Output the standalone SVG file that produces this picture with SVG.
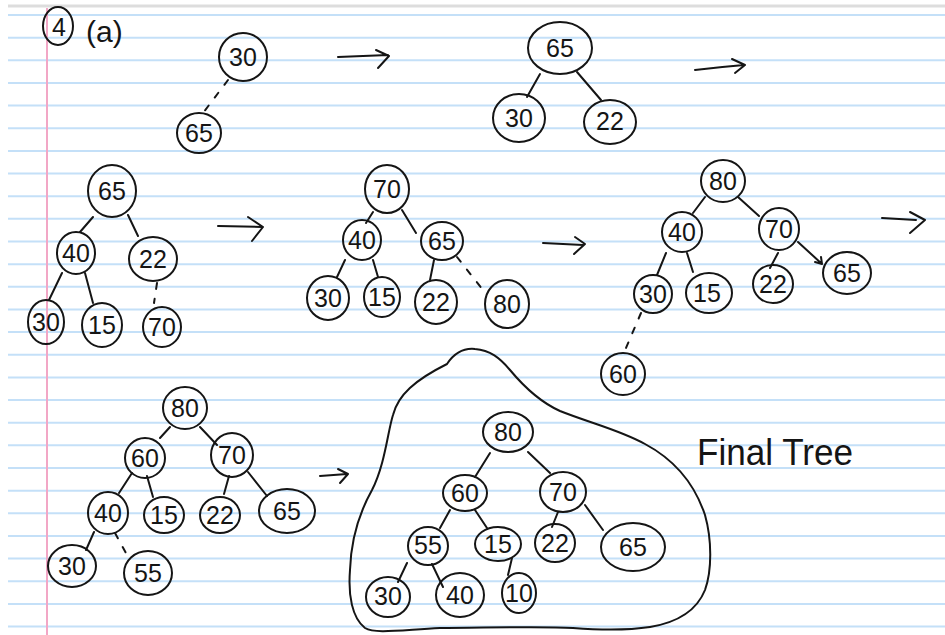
<svg xmlns="http://www.w3.org/2000/svg" width="945" height="635" viewBox="0 0 945 635">
<defs>
<style>
.bg{fill:#ffffff}
.rule{stroke:#c4e0f8;stroke-width:2}
.margin{stroke:#f2a7c6;stroke-width:2}
.top{stroke:#dddddd;stroke-width:3}
.n ellipse{fill:none;stroke:#151515;stroke-width:2}
.n text{font-family:"Liberation Sans",Arial,sans-serif;font-size:25px;fill:#151515;text-anchor:middle;dominant-baseline:central}
.e{fill:none;stroke:#151515;stroke-width:2;stroke-linecap:round;stroke-linejoin:round}
.d{stroke-dasharray:6 10}
.lbl{font-family:"Liberation Sans",Arial,sans-serif;fill:#151515}
</style>
</defs>
<rect class="bg" x="0" y="0" width="945" height="635"/>
<g id="paper">
<line class="top" x1="8" y1="6" x2="945" y2="6"/>
<line class="rule" x1="8" y1="15" x2="945" y2="15"/>
<line class="rule" x1="8" y1="37.65" x2="945" y2="37.65"/>
<line class="rule" x1="8" y1="60.3" x2="945" y2="60.3"/>
<line class="rule" x1="8" y1="82.95" x2="945" y2="82.95"/>
<line class="rule" x1="8" y1="105.6" x2="945" y2="105.6"/>
<line class="rule" x1="8" y1="128.25" x2="945" y2="128.25"/>
<line class="rule" x1="8" y1="150.9" x2="945" y2="150.9"/>
<line class="rule" x1="8" y1="173.55" x2="945" y2="173.55"/>
<line class="rule" x1="8" y1="196.2" x2="945" y2="196.2"/>
<line class="rule" x1="8" y1="218.85" x2="945" y2="218.85"/>
<line class="rule" x1="8" y1="241.5" x2="945" y2="241.5"/>
<line class="rule" x1="8" y1="264.15" x2="945" y2="264.15"/>
<line class="rule" x1="8" y1="286.8" x2="945" y2="286.8"/>
<line class="rule" x1="8" y1="309.45" x2="945" y2="309.45"/>
<line class="rule" x1="8" y1="332.1" x2="945" y2="332.1"/>
<line class="rule" x1="8" y1="354.75" x2="945" y2="354.75"/>
<line class="rule" x1="8" y1="377.4" x2="945" y2="377.4"/>
<line class="rule" x1="8" y1="400.05" x2="945" y2="400.05"/>
<line class="rule" x1="8" y1="422.7" x2="945" y2="422.7"/>
<line class="rule" x1="8" y1="445.35" x2="945" y2="445.35"/>
<line class="rule" x1="8" y1="468" x2="945" y2="468"/>
<line class="rule" x1="8" y1="490.65" x2="945" y2="490.65"/>
<line class="rule" x1="8" y1="513.3" x2="945" y2="513.3"/>
<line class="rule" x1="8" y1="535.95" x2="945" y2="535.95"/>
<line class="rule" x1="8" y1="558.6" x2="945" y2="558.6"/>
<line class="rule" x1="8" y1="581.25" x2="945" y2="581.25"/>
<line class="rule" x1="8" y1="603.9" x2="945" y2="603.9"/>
<line class="rule" x1="8" y1="626.55" x2="945" y2="626.55"/>
<line class="margin" x1="47" y1="8" x2="47" y2="635"/>
</g>

<g id="header">
<g class="n" id="h4"><ellipse cx="58" cy="26" rx="15" ry="19"/><text x="59" y="27" font-size="27">4</text></g>
<text class="lbl" x="86" y="42" font-size="30">(a)</text>
</g>

<g id="connectors">
<!-- tree 1 -->
<path class="e d" d="M228,80 L203,113"/>
<!-- arrows -->
<path class="e" d="M338,57 L388,55 M376,50 L389,56 L378,68"/>
<path class="e" d="M695,70 Q720,67 744,65 M732,59 L745,65 L735,73"/>
<path class="e" d="M218,226 L262,227 M248,217 L263,227 L252,241"/>
<path class="e" d="M543,243 L583,245 M575,237 L585,244 L574,254"/>
<path class="e" d="M882,218 L916,220 M910,212 L925,220 L910,233"/>
<path class="e" d="M320,476 L347,474 M338,469 L348,474 L340,483"/>
<!-- tree 2 -->
<path class="e" d="M540,74 L527,97 M577,72 L601,100"/>
<!-- tree 3 -->
<path class="e" d="M93,217 L80,232 M128,215 L138,236 M62,273 L49,300 M85,273 L93,303"/>
<path class="e d" d="M157,283 L154,303"/>
<!-- tree 4 -->
<path class="e" d="M373,212 L366,223 M402,210 L416,233 M345,260 L337,277 M373,260 L378,277 M434,260 L430,280"/>
<path class="e d" d="M457,257 L483,290"/>
<!-- tree 5 -->
<path class="e" d="M705,197 L693,213 M738,197 L759,216 M666,253 L657,275 M687,253 L693,272 M778,253 L770,268 M798,242 L822,264 M815,262 L822,264 L821,257"/>
<path class="e d" d="M641,313 L623,355"/>
<!-- tree 6 -->
<path class="e" d="M170,427 L160,438 M200,427 L217,445 M132,473 L119,493 M147,476 L153,497 M229,476 L224,494 M248,472 L267,496 M94,532 L86,550"/>
<path class="e d" d="M115,533 L127,555"/>
<!-- final tree -->
<path class="e" d="M490,453 L475,477 M528,452 L550,473 M450,510 L440,528 M475,510 L487,528 M558,512 L552,527 M585,505 L603,530 M407,563 L398,582 M432,564 L443,587 M512,558 L508,575"/>
</g>

<g id="blob">
<path class="e" d="M447,364 C455,352 465,348 475,349 C490,350 500,358 510,370 C525,388 540,402 560,411 C590,423 620,430 645,444 C675,460 695,485 705,515 C712,540 712,570 705,590 C697,610 680,622 650,627 C630,630 600,630 573,628 C540,626 480,628 440,628 C400,630 375,634 365,628 C352,618 348,595 350,570 C351,540 358,515 372,490 C385,465 388,430 393,415 C398,395 415,380 447,364 Z"/>
</g>
<text id="final-label" class="lbl" x="697" y="465" font-size="36" textLength="156" lengthAdjust="spacingAndGlyphs">Final Tree</text>

<g id="tree1">
<g class="n" id="t1-30"><ellipse cx="243" cy="57" rx="24" ry="24"/><text x="243" y="57" font-size="26">30</text></g>
<g class="n" id="t1-65"><ellipse cx="199" cy="133" rx="22" ry="20"/><text x="199" y="133">65</text></g>
</g>

<g id="tree2">
<g class="n" id="t2-65"><ellipse cx="560" cy="48" rx="32" ry="26"/><text x="560" y="48" font-size="30">65</text></g>
<g class="n" id="t2-30"><ellipse cx="519" cy="118" rx="26" ry="24"/><text x="519" y="118" font-size="28">30</text></g>
<g class="n" id="t2-22"><ellipse cx="610" cy="122" rx="26" ry="22"/><text x="610" y="121" font-size="26">22</text></g>
</g>

<g id="tree3">
<g class="n" id="t3-65"><ellipse cx="112" cy="191" rx="24" ry="26"/><text x="112" y="191">65</text></g>
<g class="n" id="t3-40"><ellipse cx="76" cy="253" rx="19" ry="21"/><text x="76" y="253">40</text></g>
<g class="n" id="t3-22"><ellipse cx="153" cy="259" rx="24" ry="22"/><text x="153" y="259">22</text></g>
<g class="n" id="t3-30"><ellipse cx="46" cy="322" rx="18" ry="22"/><text x="46" y="322">30</text></g>
<g class="n" id="t3-15"><ellipse cx="102" cy="325" rx="20" ry="22"/><text x="102" y="325">15</text></g>
<g class="n" id="t3-70"><ellipse cx="162" cy="327" rx="19" ry="20"/><text x="162" y="327">70</text></g>
</g>

<g id="tree4">
<g class="n" id="t4-70"><ellipse cx="387" cy="189" rx="22" ry="24"/><text x="387" y="189">70</text></g>
<g class="n" id="t4-40"><ellipse cx="362" cy="240" rx="19" ry="20"/><text x="362" y="240">40</text></g>
<g class="n" id="t4-65"><ellipse cx="442" cy="241" rx="21" ry="19"/><text x="442" y="241">65</text></g>
<g class="n" id="t4-30"><ellipse cx="328" cy="298" rx="21" ry="22"/><text x="328" y="298">30</text></g>
<g class="n" id="t4-15"><ellipse cx="382" cy="297" rx="18" ry="20"/><text x="382" y="297">15</text></g>
<g class="n" id="t4-22"><ellipse cx="436" cy="302" rx="21" ry="22"/><text x="436" y="302">22</text></g>
<g class="n" id="t4-80"><ellipse cx="507" cy="304" rx="22" ry="24"/><text x="507" y="304">80</text></g>
</g>

<g id="tree5">
<g class="n" id="t5-80"><ellipse cx="723" cy="181" rx="22" ry="21"/><text x="723" y="181">80</text></g>
<g class="n" id="t5-40"><ellipse cx="682" cy="232" rx="20" ry="20"/><text x="682" y="232">40</text></g>
<g class="n" id="t5-70"><ellipse cx="779" cy="229" rx="20" ry="21"/><text x="779" y="229">70</text></g>
<g class="n" id="t5-30"><ellipse cx="653" cy="294" rx="19" ry="19"/><text x="653" y="294">30</text></g>
<g class="n" id="t5-15"><ellipse cx="709" cy="293" rx="23" ry="20"/><text x="707" y="293">15</text></g>
<g class="n" id="t5-22"><ellipse cx="773" cy="284" rx="20" ry="19"/><text x="773" y="284">22</text></g>
<g class="n" id="t5-65"><ellipse cx="847" cy="273" rx="24" ry="21"/><text x="847" y="273">65</text></g>
<g class="n" id="t5-60"><ellipse cx="623" cy="374" rx="22" ry="21"/><text x="623" y="374">60</text></g>
</g>

<g id="tree6">
<g class="n" id="t6-80"><ellipse cx="185" cy="408" rx="22" ry="21"/><text x="185" y="408">80</text></g>
<g class="n" id="t6-60"><ellipse cx="145" cy="458" rx="20" ry="20"/><text x="145" y="458">60</text></g>
<g class="n" id="t6-70"><ellipse cx="232" cy="455" rx="21" ry="22"/><text x="232" y="455">70</text></g>
<g class="n" id="t6-40"><ellipse cx="108" cy="513" rx="20" ry="21"/><text x="108" y="513">40</text></g>
<g class="n" id="t6-15"><ellipse cx="164" cy="515" rx="20" ry="18"/><text x="164" y="515">15</text></g>
<g class="n" id="t6-22"><ellipse cx="220" cy="515" rx="20" ry="18"/><text x="220" y="515">22</text></g>
<g class="n" id="t6-65"><ellipse cx="287" cy="511" rx="28" ry="22"/><text x="287" y="511" font-size="27">65</text></g>
<g class="n" id="t6-30"><ellipse cx="72" cy="566" rx="24" ry="21"/><text x="72" y="566">30</text></g>
<g class="n" id="t6-55"><ellipse cx="148" cy="573" rx="24" ry="22"/><text x="148" y="573">55</text></g>
</g>

<g id="final-tree">
<g class="n" id="f-80"><ellipse cx="508" cy="432" rx="25" ry="20"/><text x="508" y="432" font-size="27">80</text></g>
<g class="n" id="f-60"><ellipse cx="465" cy="493" rx="22" ry="18"/><text x="465" y="493">60</text></g>
<g class="n" id="f-70"><ellipse cx="563" cy="492" rx="23" ry="20"/><text x="563" y="492">70</text></g>
<g class="n" id="f-55"><ellipse cx="428" cy="546" rx="20" ry="19"/><text x="428" y="545" font-size="23">55</text></g>
<g class="n" id="f-15"><ellipse cx="498" cy="544" rx="23" ry="17"/><text x="498" y="544">15</text></g>
<g class="n" id="f-22"><ellipse cx="555" cy="543" rx="20" ry="19"/><text x="555" y="543">22</text></g>
<g class="n" id="f-65"><ellipse cx="633" cy="547" rx="32" ry="24"/><text x="633" y="547" font-size="30">65</text></g>
<g class="n" id="f-30"><ellipse cx="388" cy="597" rx="22" ry="20"/><text x="388" y="596" font-size="22">30</text></g>
<g class="n" id="f-40"><ellipse cx="460" cy="595" rx="24" ry="22"/><text x="460" y="595" font-size="22">40</text></g>
<g class="n" id="f-10"><ellipse cx="519" cy="593" rx="17" ry="20"/><text x="519" y="593" font-size="25">10</text></g>
</g>
</svg>
